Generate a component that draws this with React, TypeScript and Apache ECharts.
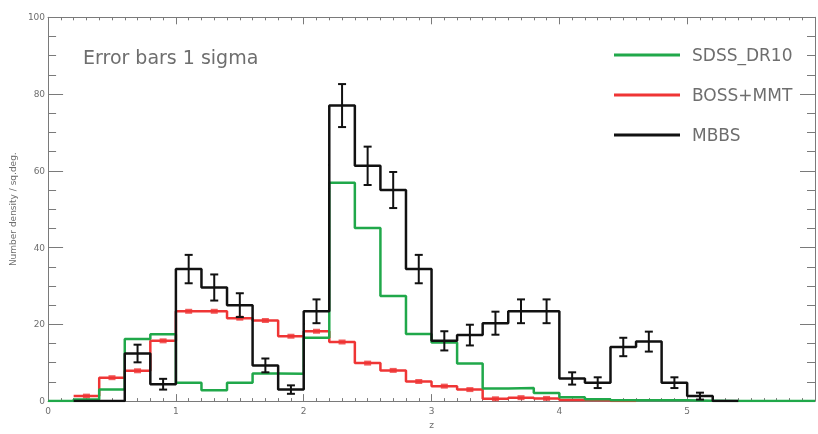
import React, { useEffect, useRef } from "react";
import * as echarts from "echarts";

// Bin edges of the redshift histogram (z)
const binEdges = [
  0.0, 0.2, 0.4, 0.6, 0.8, 1.0, 1.2, 1.4, 1.6, 1.8, 2.0, 2.2, 2.4, 2.6, 2.8, 3.0,
  3.2, 3.4, 3.6, 3.8, 4.0, 4.2, 4.4, 4.6, 4.8, 5.0, 5.2, 5.4, 5.6, 5.8, 6.0,
];

// Number density per bin (null = bin not drawn)
const sdssDr10 = [
  0, 0.4, 3.0, 16.2, 17.4, 4.8, 2.8, 4.8, 7.2, 7.1, 16.5, 56.9, 45.1, 27.4, 17.5,
  15.3, 9.8, 3.3, 3.4, 2.1, 1.0, 0.5, 0.2, 0.2, 0.2, 0.1, 0, 0, 0, 0,
];
const bossMmt = [
  null, 1.3, 6.1, 7.9, 15.7, 23.4, 23.4, 21.6, 21.0, 16.9, 18.2, 15.4, 9.9, 8.0, 5.1,
  3.9, 3.0, 0.6, 0.9, 0.7, 0.3, 0.2, 0, null, null, null, null, null, null, null,
];
const mbbs = [
  null, 0, 0, 12.4, 4.4, 34.4, 29.6, 25.0, 9.3, 3.0, 23.4, 77.0, 61.3, 55.0, 34.4,
  15.7, 17.2, 20.3, 23.4, 23.4, 5.9, 4.8, 14.1, 15.5, 4.8, 1.3, 0, null, null, null,
];
// 1-sigma errors of MBBS
const mbbsErr = [
  null, null, null, 2.3, 1.4, 3.7, 3.4, 3.1, 1.8, 1.1, 3.1, 5.6, 5.0, 4.7, 3.7,
  2.5, 2.7, 3.0, 3.1, 3.1, 1.6, 1.4, 2.4, 2.6, 1.4, 0.9, null, null, null, null,
];

const xTicks = [0, 1, 2, 3, 4, 5];
const yTicks = [0, 20, 40, 60, 80, 100];

const GREEN = "#20a84a";
const RED = "#ef3535";
const BLACK = "#111111";
const GREY = "#6e6e6e";
const AXIS = "#7a7a7a";
const FONT = "DejaVu Sans";

function stepPoints(values: (number | null)[]) {
  const pts: [number, number][] = [];
  let last = -1;
  for (let i = 0; i < values.length; i++) {
    const v = values[i];
    if (v === null || v === undefined) continue;
    pts.push([binEdges[i], v]);
    last = i;
  }
  if (last >= 0) pts.push([binEdges[last + 1], values[last] as number]);
  return pts;
}

function centers(values: (number | null)[]) {
  const out: [number, number][] = [];
  values.forEach((v, i) => {
    if (v !== null && v > 0.5) out.push([(binEdges[i] + binEdges[i + 1]) / 2, v]);
  });
  return out;
}

function errData() {
  const out: [number, number, number][] = [];
  mbbs.forEach((v, i) => {
    const e = mbbsErr[i];
    if (v !== null && e !== null) {
      out.push([(binEdges[i] + binEdges[i + 1]) / 2, v - e, v + e]);
    }
  });
  return out;
}

export default function App() {
  const ref = useRef<HTMLDivElement>(null);
  useEffect(() => {
    document.body.style.margin = "0";
    const chart = echarts.init(ref.current!, null, { renderer: "svg" });
    const baseX = {
      type: "value",
      min: 0,
      max: 6,
      interval: 1,
      axisLine: { show: true, onZero: false, lineStyle: { color: AXIS, width: 1 } },
      splitLine: { show: false },
    };
    const baseY = {
      type: "value",
      min: 0,
      max: 100,
      interval: 20,
      axisLine: { show: true, onZero: false, lineStyle: { color: AXIS, width: 1 } },
      splitLine: { show: false },
    };
    chart.setOption({
      animation: false,
      textStyle: { fontFamily: FONT },
      grid: { left: 45, top: 17.3, right: -3, bottom: 22.3, containLabel: false },
      title: {
        text: "Error bars 1 sigma",
        left: 83,
        top: 47,
        padding: 0,
        textStyle: { fontFamily: FONT, fontSize: 19, fontWeight: "normal", color: GREY },
      },
      legend: {
        data: ["SDSS_DR10", "BOSS+MMT", "MBBS"],
        orient: "vertical",
        left: 614,
        top: 45,
        padding: 0,
        icon: "rect",
        itemWidth: 66,
        itemHeight: 3,
        itemGap: 20,
        selectedMode: false,
        textStyle: {
          fontFamily: FONT,
          fontSize: 17,
          lineHeight: 20,
          color: GREY,
          padding: [0, 0, 0, 7],
        },
      },
      xAxis: [
        {
          ...baseX,
          position: "bottom",
          name: "z",
          nameLocation: "middle",
          nameGap: 17,
          nameTextStyle: { fontSize: 9, color: GREY },
          axisTick: { show: true, inside: true, length: 7, lineStyle: { color: AXIS } },
          minorTick: { show: true, splitNumber: 10, length: 3, lineStyle: { color: AXIS } },
          axisLabel: {
            show: true,
            fontSize: 9,
            color: GREY,
            margin: 5,
            formatter: (v: number) => (xTicks.includes(v) ? String(v) : ""),
          },
        },
        {
          ...baseX,
          position: "top",
          axisTick: { show: true, inside: true, length: 7, lineStyle: { color: AXIS } },
          minorTick: { show: true, splitNumber: 10, length: 3, lineStyle: { color: AXIS } },
          axisLabel: { show: false },
        },
      ],
      yAxis: [
        {
          ...baseY,
          position: "left",
          name: "Number density / sq.deg.",
          nameLocation: "middle",
          nameGap: 28,
          nameTextStyle: { fontSize: 9, color: GREY },
          axisTick: { show: true, inside: true, length: 15, lineStyle: { color: AXIS } },
          minorTick: { show: true, splitNumber: 4, length: 8, lineStyle: { color: AXIS } },
          axisLabel: {
            show: true,
            fontSize: 9,
            color: GREY,
            margin: 3,
            formatter: (v: number) => (yTicks.includes(v) ? String(v) : ""),
          },
        },
        {
          ...baseY,
          position: "right",
          axisTick: { show: true, inside: true, length: 15, lineStyle: { color: AXIS } },
          minorTick: { show: true, splitNumber: 4, length: 8, lineStyle: { color: AXIS } },
          axisLabel: { show: false },
        },
      ],
      series: [
        {
          name: "BOSS+MMT",
          type: "line",
          step: "end",
          symbol: "none",
          data: stepPoints(bossMmt),
          lineStyle: { color: RED, width: 2.5 },
          itemStyle: { color: RED },
          z: 2,
        },
        {
          name: "BOSS+MMT err",
          type: "scatter",
          symbol: "rect",
          symbolSize: [7, 5],
          data: centers(bossMmt),
          itemStyle: { color: RED },
          z: 2,
        },
        {
          name: "SDSS_DR10",
          type: "line",
          step: "end",
          symbol: "none",
          data: stepPoints(sdssDr10),
          lineStyle: { color: GREEN, width: 2.5 },
          itemStyle: { color: GREEN },
          z: 3,
        },
        {
          name: "MBBS",
          type: "line",
          step: "end",
          symbol: "none",
          data: stepPoints(mbbs),
          lineStyle: { color: BLACK, width: 2.5 },
          itemStyle: { color: BLACK },
          z: 4,
        },
        {
          name: "MBBS err",
          type: "custom",
          data: errData(),
          encode: { x: 0, y: [1, 2] },
          z: 5,
          renderItem: (params: any, api: any) => {
            const x = api.value(0);
            const lo = api.value(1);
            const hi = api.value(2);
            const pT = api.coord([x, hi]);
            const pB = api.coord([x, lo]);
            const hw = 4;
            const st = { stroke: BLACK, lineWidth: 2 };
            return {
              type: "group",
              children: [
                { type: "line", shape: { x1: pT[0], y1: pT[1], x2: pB[0], y2: pB[1] }, style: st },
                { type: "line", shape: { x1: pT[0] - hw, y1: pT[1], x2: pT[0] + hw, y2: pT[1] }, style: st },
                { type: "line", shape: { x1: pB[0] - hw, y1: pB[1], x2: pB[0] + hw, y2: pB[1] }, style: st },
              ],
            };
          },
        },
      ],
    });
    return () => chart.dispose();
  }, []);
  return <div ref={ref} style={{ position: "fixed", left: 0, top: 0, width: 818, height: 434 }} />;
}
